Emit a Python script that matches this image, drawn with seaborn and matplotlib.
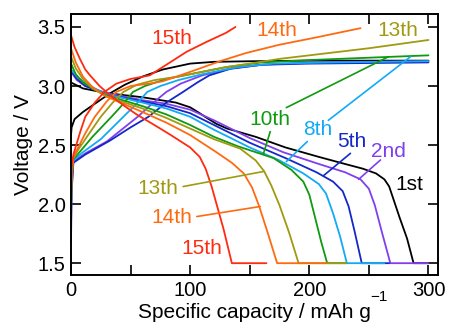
import numpy as np
import pandas as pd
import matplotlib
matplotlib.use("Agg")
import matplotlib.pyplot as plt
from matplotlib.ticker import MultipleLocator, FuncFormatter
import seaborn as sns

# cycle labels / colours
cycles = ["1st", "2nd", "5th", "8th", "10th", "13th", "14th", "15th"]
colors = ["#000000", "#7F3FEF", "#1428C8", "#12AAF5", "#109A10", "#A09A10", "#FF6A10", "#FF2A10"]

# charge (c) and discharge (d) curves, capacity in mAh/g and voltage in V
c1_cap = [0, 0.5, 3, 10, 20, 33, 45, 60, 77, 100, 120, 150, 200, 250, 300]
c1_v = [2.58, 2.65, 2.72, 2.78, 2.85, 2.94, 3.01, 3.08, 3.14, 3.19, 3.205, 3.21, 3.215, 3.215, 3.215]
d1_cap = [0, 10, 30, 60, 88, 100, 108, 114, 122, 131, 155, 180, 208, 230, 245, 256, 263, 267, 271, 276, 282, 287.5, 300]
d1_v = [3.03, 2.98, 2.94, 2.905, 2.86, 2.82, 2.77, 2.73, 2.68, 2.64, 2.57, 2.48, 2.40, 2.34, 2.30, 2.26, 2.21, 2.15, 2.03, 1.88, 1.71, 1.5, 1.5]

c2_cap = [0, 0.5, 2, 12, 30, 56, 68, 80, 92, 110, 130, 160, 200, 300]
c2_v = [1.8, 2.15, 2.36, 2.43, 2.53, 2.74, 2.85, 2.95, 3.02, 3.09, 3.14, 3.18, 3.2, 3.21]
d2_cap = [0, 5, 12, 30, 60, 80, 100, 120, 150, 178, 208, 230, 243, 250, 255, 261, 268, 300]
d2_v = [3.12, 3.05, 3.0, 2.94, 2.88, 2.85, 2.80, 2.71, 2.56, 2.44, 2.34, 2.27, 2.21, 2.13, 1.99, 1.76, 1.5, 1.5]

c5_cap = [0, 0.5, 2, 12, 33, 50, 65, 80, 94, 106, 116, 135, 160, 200, 300]
c5_v = [1.67, 2.1, 2.35, 2.42, 2.54, 2.65, 2.74, 2.86, 2.95, 3.03, 3.09, 3.15, 3.18, 3.19, 3.2]
d5_cap = [0, 5, 12, 30, 60, 80, 100, 120, 150, 180, 206, 220, 228, 233, 238, 244, 267]
d5_v = [3.13, 3.06, 3.0, 2.93, 2.87, 2.83, 2.77, 2.67, 2.52, 2.39, 2.27, 2.19, 2.11, 1.98, 1.77, 1.5, 1.5]

c8_cap = [0, 0.5, 2, 10, 25, 44, 55, 64, 75, 90, 110, 140, 170, 220, 300]
c8_v = [2.0, 2.2, 2.37, 2.44, 2.55, 2.74, 2.85, 2.95, 3.0, 3.05, 3.1, 3.16, 3.19, 3.2, 3.21]
d8_cap = [0, 5, 10, 20, 30, 60, 80, 100, 120, 150, 175, 195, 208, 214, 220, 226, 231.5, 263]
d8_v = [3.14, 3.08, 3.04, 2.98, 2.93, 2.86, 2.81, 2.74, 2.63, 2.48, 2.37, 2.26, 2.17, 2.09, 1.92, 1.72, 1.5, 1.5]

c10_cap = [0, 0.5, 2, 8, 18, 34, 44, 52, 62, 80, 100, 130, 160, 200, 250, 300]
c10_v = [1.9, 2.22, 2.38, 2.45, 2.57, 2.74, 2.85, 2.95, 3.0, 3.06, 3.1, 3.16, 3.2, 3.22, 3.24, 3.26]
d10_cap = [0, 4, 10, 20, 30, 60, 80, 100, 120, 140, 170, 185, 195, 200, 205, 210, 215, 231]
d10_v = [3.19, 3.1, 3.03, 2.97, 2.92, 2.83, 2.76, 2.67, 2.57, 2.49, 2.39, 2.29, 2.19, 2.08, 1.88, 1.68, 1.5, 1.5]

c13_cap = [0, 0.5, 2, 6, 14, 25, 35, 44, 55, 70, 90, 110, 130, 150, 175, 200, 250, 300]
c13_v = [1.95, 2.25, 2.39, 2.46, 2.58, 2.74, 2.86, 2.95, 3.01, 3.05, 3.08, 3.12, 3.16, 3.19, 3.23, 3.26, 3.32, 3.39]
d13_cap = [0, 4, 10, 18, 30, 60, 80, 100, 120, 142, 155, 162, 168, 175, 183, 191, 231]
d13_v = [3.25, 3.15, 3.06, 2.98, 2.91, 2.81, 2.73, 2.64, 2.55, 2.47, 2.37, 2.28, 2.16, 1.99, 1.76, 1.5, 1.5]

c14_cap = [0, 0.5, 2, 6, 12, 20, 30, 38, 50, 65, 77, 100, 125, 147, 175, 205, 243]
c14_v = [2.0, 2.28, 2.40, 2.48, 2.6, 2.74, 2.87, 2.95, 3.0, 3.02, 3.04, 3.12, 3.21, 3.28, 3.35, 3.41, 3.49]
d14_cap = [0, 4, 10, 18, 30, 60, 80, 100, 122, 135, 145, 152, 158, 165, 173, 214]
d14_v = [3.32, 3.2, 3.08, 2.99, 2.91, 2.78, 2.69, 2.585, 2.44, 2.35, 2.26, 2.14, 1.98, 1.76, 1.5, 1.5]

c15_cap = [0, 0.5, 2, 5, 8, 12, 20, 28, 38, 50, 66, 80, 97, 114, 130, 138]
c15_v = [2.08, 2.3, 2.42, 2.52, 2.62, 2.74, 2.86, 2.95, 3.02, 3.06, 3.09, 3.18, 3.29, 3.375, 3.45, 3.5]
d15_cap = [0, 3, 7.5, 12, 16, 24, 33, 45, 55, 70, 83, 100, 108, 113, 118, 123, 128, 135, 164]
d15_v = [3.43, 3.33, 3.23, 3.14, 3.09, 3.0, 2.92, 2.83, 2.76, 2.67, 2.59, 2.48, 2.40, 2.30, 2.15, 1.97, 1.79, 1.5, 1.5]

curves = {
    "1st": [(c1_cap, c1_v), (d1_cap, d1_v)],
    "2nd": [(c2_cap, c2_v), (d2_cap, d2_v)],
    "5th": [(c5_cap, c5_v), (d5_cap, d5_v)],
    "8th": [(c8_cap, c8_v), (d8_cap, d8_v)],
    "10th": [(c10_cap, c10_v), (d10_cap, d10_v)],
    "13th": [(c13_cap, c13_v), (d13_cap, d13_v)],
    "14th": [(c14_cap, c14_v), (d14_cap, d14_v)],
    "15th": [(c15_cap, c15_v), (d15_cap, d15_v)],
}

rows = []
for cyc in cycles:
    for seg, (cap, v) in zip(["charge", "discharge"], curves[cyc]):
        for a, b in zip(cap, v):
            rows.append((cyc, seg, a, b))
df = pd.DataFrame(rows, columns=["cycle", "seg", "cap", "v"])

sns.set_theme(style="ticks")
plt.rcParams["font.family"] = ["Liberation Sans", "DejaVu Sans"]
plt.rcParams["text.color"] = "black"
plt.rcParams["axes.labelcolor"] = "black"
plt.rcParams["xtick.color"] = "black"
plt.rcParams["ytick.color"] = "black"

fig = plt.figure(figsize=(4.49, 3.22), dpi=100)
ax = fig.add_axes([71 / 449, 1 - 275 / 322, 367 / 449, 261 / 322])

sns.lineplot(data=df, x="cap", y="v", hue="cycle", units="seg", estimator=None,
             sort=False, hue_order=cycles, palette=colors, linewidth=1.3,
             legend=False, ax=ax)

ax.set_xlim(0, 308)
ax.set_ylim(1.4, 3.61)
ax.xaxis.set_major_locator(MultipleLocator(50))
ax.xaxis.set_major_formatter(FuncFormatter(lambda x, p: f"{x:.0f}" if x % 100 == 0 else ""))
ax.yaxis.set_major_locator(MultipleLocator(0.5))
ax.yaxis.set_major_formatter(FuncFormatter(lambda y, p: f"{y:.1f}"))
ax.tick_params(direction="in", top=True, right=True, length=7.5, width=1.2,
               labelsize=14.5, pad=4, colors="black", labelcolor="black")
for s in ax.spines.values():
    s.set_linewidth(1.4)
    s.set_color("black")

ax.set_ylabel("Voltage / V", fontsize=15, labelpad=3)
ax.set_xlabel("Specific capacity / mAh g", fontsize=15, labelpad=2.5)
ax.text(0.84, -0.085, "\u22121", transform=ax.transAxes, fontsize=11,
        ha="center", va="center")

fs = 15
col = dict(zip(cycles, colors))
# labels near curves
ax.text(85, 3.40, "15th", color=col["15th"], fontsize=fs, ha="center", va="center")
ax.text(173, 3.467, "14th", color=col["14th"], fontsize=fs, ha="center", va="center")
ax.text(274, 3.467, "13th", color=col["13th"], fontsize=fs, ha="center", va="center")
ax.text(167, 2.72, "10th", color=col["10th"], fontsize=fs, ha="center", va="center")
ax.text(207, 2.63, "8th", color=col["8th"], fontsize=fs, ha="center", va="center")
ax.text(236, 2.53, "5th", color=col["5th"], fontsize=fs, ha="center", va="center")
ax.text(266, 2.445, "2nd", color=col["2nd"], fontsize=fs, ha="center", va="center")
ax.text(284, 2.166, "1st", color=col["1st"], fontsize=fs, ha="center", va="center")
ax.text(73, 2.13, "13th", color=col["13th"], fontsize=fs, ha="center", va="center")
ax.text(85, 1.887, "14th", color=col["14th"], fontsize=fs, ha="center", va="center")
ax.text(110, 1.625, "15th", color=col["15th"], fontsize=fs, ha="center", va="center")

# leader lines
leaders = [
    ("10th", (180.7, 2.817), (266.4, 3.248)),
    ("10th", (167.2, 2.614), (161.3, 2.42)),
    ("8th", (216, 2.71), (284.9, 3.248)),
    ("8th", (198.3, 2.53), (180.7, 2.36)),
    ("5th", (234.5, 2.43), (211.8, 2.24)),
    ("2nd", (259.7, 2.374), (241.4, 2.21)),
    ("13th", (94.1, 2.149), (161.3, 2.276)),
    ("14th", (105.6, 1.895), (158.8, 1.98)),
]
for c, p1, p2 in leaders:
    ax.plot([p1[0], p2[0]], [p1[1], p2[1]], color=col[c], lw=1.2)

ax.set_facecolor("white")
fig.savefig("out.png", dpi=100, facecolor="white")
